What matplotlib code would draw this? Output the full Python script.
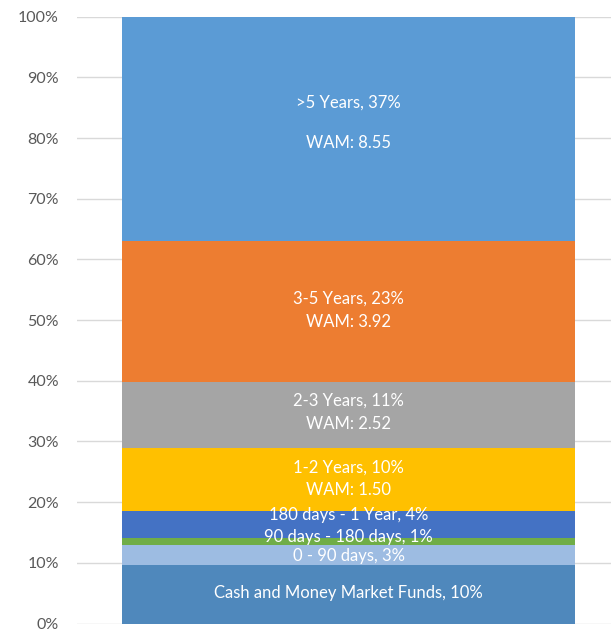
import matplotlib.pyplot as plt
from matplotlib.ticker import PercentFormatter

# Data (in percent of portfolio)
buckets = ["Cash and Money Market Funds", "0 - 90 days", "90 days - 180 days",
           "180 days - 1 Year", "1-2 Years", "2-3 Years", "3-5 Years", ">5 Years"]
shares = [9.64, 3.29, 1.16, 4.49, 10.38, 10.88, 23.16, 37.0]
shown_pct = [10, 3, 1, 4, 10, 11, 23, 37]
wam = [None, None, None, None, "1.50", "2.52", "3.92", "8.55"]
colors = ["#4F88BC", "#9DBCE2", "#70AD47", "#4472C4",
          "#FFC000", "#A5A5A5", "#ED7D31", "#5B9BD5"]

# label offsets from segment centre, in pixels (first line, WAM line)
offsets = [(1, None), (-1, None), (5, None), (9, None),
           (12, -11), (14, -9), (13, -11), (26, -14)]

plt.rcParams['font.family'] = ['Lato', 'DejaVu Sans']

fig = plt.figure(figsize=(6.11, 6.29), dpi=100)
ax = fig.add_axes([77 / 611, 5.5 / 629, 534 / 611, 606.8 / 629])

bottom = 0
for name, val, pct, w, col, off in zip(buckets, shares, shown_pct, wam, colors, offsets):
    ax.bar(0, val, bottom=bottom, width=1.0, color=col, zorder=2)
    mid = bottom + val / 2
    ax.annotate(f"{name}, {pct}%", xy=(0, mid), xytext=(0, off[0] * 0.72),
                textcoords="offset points", ha='center', va='center',
                color='white', fontsize=12)
    if w is not None:
        ax.annotate(f"WAM: {w}", xy=(0, mid), xytext=(0, off[1] * 0.72),
                    textcoords="offset points", ha='center', va='center',
                    color='white', fontsize=12)
    bottom += val

ax.set_xlim(-0.5 - 45 / 453, 0.5 + 36 / 453)
ax.set_ylim(0, 100)
ax.set_yticks(range(0, 101, 10))
ax.yaxis.set_major_formatter(PercentFormatter(decimals=0))
ax.set_xticks([])
ax.grid(axis='y', color='#D9D9D9', linewidth=1, zorder=0)
for s in ax.spines.values():
    s.set_visible(False)
ax.tick_params(axis='y', length=0, pad=13, labelsize=11.5, labelcolor='#595959')

fig.savefig("out.png", dpi=100)
